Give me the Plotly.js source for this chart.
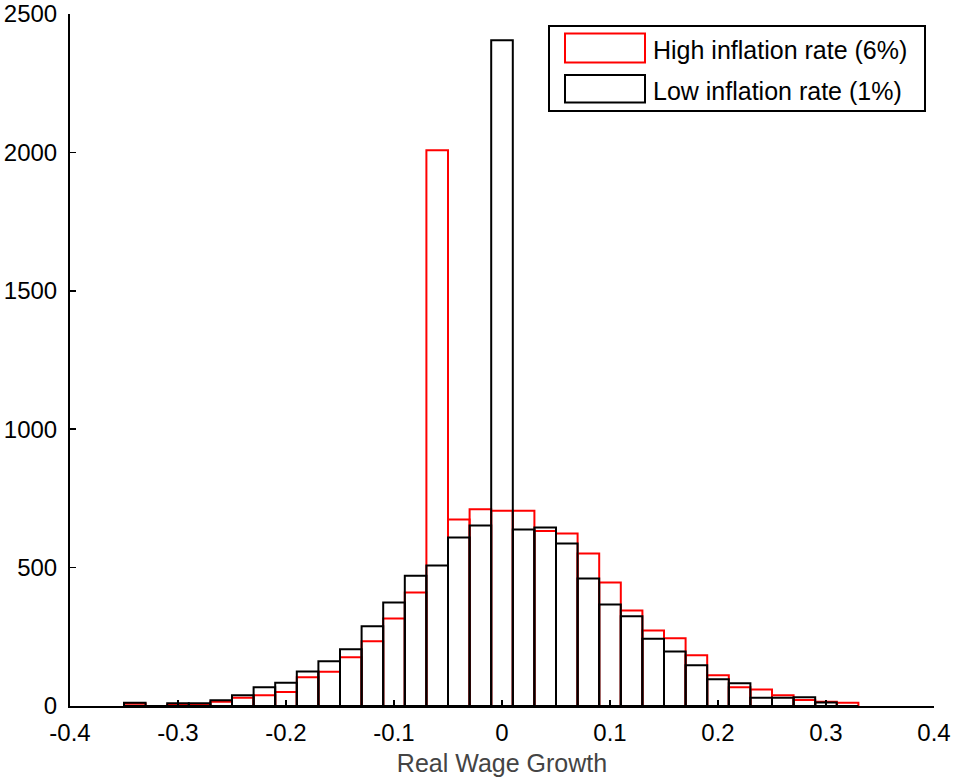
<!DOCTYPE html>
<html>
<head>
<meta charset="utf-8">
<script src="https://cdn.plot.ly/plotly-3.0.1.min.js"></script>
<style>
  html, body { margin: 0; padding: 0; background: #ffffff; }
  #chart { width: 953px; height: 781px; }
</style>
</head>
<body>
<div id="chart"></div>
<script>
// Bin centres of the histogram (Real Wage Growth)
const binCenters = [-0.34, -0.32, -0.30, -0.28, -0.26, -0.24, -0.22, -0.20, -0.18, -0.16,
                    -0.14, -0.12, -0.10, -0.08, -0.06, -0.04, -0.02, 0.00, 0.02, 0.04,
                    0.06, 0.08, 0.10, 0.12, 0.14, 0.16, 0.18, 0.20, 0.22, 0.24,
                    0.26, 0.28, 0.30, 0.32];
const binWidth = 0.02;

// Counts: high inflation rate (6%)
const highInflation = [8, 0, 5, 5, 15, 30, 39, 51, 104, 124,
                       176, 234, 316, 410, 2008, 674, 711, 705, 705, 632,
                       623, 551, 446, 345, 273, 245, 183, 111, 68, 60,
                       39, 22, 15, 12];

// Counts: low inflation rate (1%)
const lowInflation = [12, 0, 10, 10, 21, 39, 68, 84, 125, 162,
                      205, 288, 374, 471, 508, 609, 652, 2405, 638, 645,
                      587, 461, 367, 324, 243, 197, 147, 97, 82, 30,
                      30, 32, 13, 0];

const seriesNames = ["High inflation rate (6%)", "Low inflation rate (1%)"];
const xTickVals = [-0.4, -0.3, -0.2, -0.1, 0, 0.1, 0.2, 0.3, 0.4];
const xTickText = ["-0.4", "-0.3", "-0.2", "-0.1", "0", "0.1", "0.2", "0.3", "0.4"];
const yTickVals = [0, 500, 1000, 1500, 2000, 2500];
const yTickText = ["0", "500", "1000", "1500", "2000", "2500"];
const xTitle = "Real Wage Growth";

const FONT = "Liberation Sans, Arial, sans-serif";

const traces = [
  {
    type: "bar",
    name: seriesNames[0],
    x: binCenters,
    y: highInflation,
    width: binCenters.map(() => binWidth),
    marker: { color: "rgba(255,255,255,0)", line: { color: "#ff0000", width: 2 } },
    showlegend: false,
    hoverinfo: "x+y"
  },
  {
    type: "bar",
    name: seriesNames[1],
    x: binCenters,
    y: lowInflation,
    width: binCenters.map(() => binWidth),
    marker: { color: "rgba(255,255,255,0)", line: { color: "#000000", width: 2 } },
    showlegend: false,
    hoverinfo: "x+y"
  }
];

// plot-area geometry in pixels (for the hand-drawn legend)
const W = 953, H = 781;
const L = 70, R = 934, T = 14, B = 706.5;
const px = x => (x - L) / (R - L);
const py = y => (B - y) / (B - T);

const shapes = [
  // legend frame
  { type: "rect", xref: "paper", yref: "paper",
    x0: px(549), x1: px(925), y0: py(111), y1: py(26),
    line: { color: "#000", width: 2 }, fillcolor: "#fff", layer: "above" },
  // legend swatches
  { type: "rect", xref: "paper", yref: "paper",
    x0: px(565), x1: px(645), y0: py(62.5), y1: py(33.5),
    line: { color: "#ff0000", width: 2 }, fillcolor: "#fff", layer: "above" },
  { type: "rect", xref: "paper", yref: "paper",
    x0: px(565), x1: px(645), y0: py(102.5), y1: py(75),
    line: { color: "#000000", width: 2 }, fillcolor: "#fff", layer: "above" }
];

const annotations = [
  { xref: "paper", yref: "paper", x: px(651), y: py(50), xanchor: "left", yanchor: "middle",
    text: seriesNames[0], showarrow: false, font: { family: FONT, size: 25, color: "#000" } },
  { xref: "paper", yref: "paper", x: px(651), y: py(91), xanchor: "left", yanchor: "middle",
    text: seriesNames[1], showarrow: false, font: { family: FONT, size: 25, color: "#000" } }
];

const layout = {
  width: W, height: H,
  margin: { l: L, r: W - R, t: T, b: H - B, pad: 0 },
  paper_bgcolor: "#ffffff",
  plot_bgcolor: "#ffffff",
  barmode: "overlay",
  bargap: 0,
  showlegend: false,
  font: { family: FONT, size: 24, color: "#000" },
  xaxis: {
    range: [-0.4, 0.4],
    tickmode: "array", tickvals: xTickVals, ticktext: xTickText,
    ticks: "inside", ticklen: 6, tickwidth: 1.5, tickcolor: "#000",
    ticklabelstandoff: 4,
    showline: true, linecolor: "#000", linewidth: 2,
    showgrid: false, zeroline: false,
    tickfont: { family: FONT, size: 24, color: "#000" },
    title: { text: xTitle, font: { family: FONT, size: 25, color: "#444" }, standoff: 10 }
  },
  yaxis: {
    range: [0, 2500],
    tickmode: "array", tickvals: yTickVals, ticktext: yTickText,
    ticks: "inside", ticklen: 6, tickwidth: 1.5, tickcolor: "#000",
    ticklabelstandoff: 6,
    showline: true, linecolor: "#000", linewidth: 2,
    showgrid: false, zeroline: false,
    tickfont: { family: FONT, size: 24, color: "#000" }
  },
  shapes: shapes,
  annotations: annotations
};

Plotly.newPlot("chart", traces, layout, { displayModeBar: false, staticPlot: true });
</script>
</body>
</html>
